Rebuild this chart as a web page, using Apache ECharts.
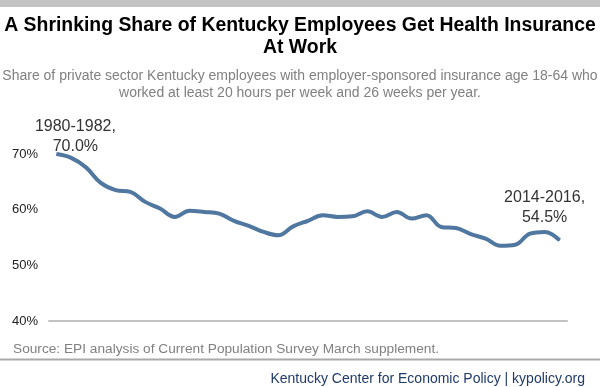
<!DOCTYPE html>
<html><head><meta charset="utf-8">
<script src="https://cdn.jsdelivr.net/npm/echarts@6/dist/echarts.min.js"></script>
<style>html,body{margin:0;padding:0;background:#fff}#c{width:600px;height:387px}</style>
</head><body><div id="c"></div>
<script>
const periods = ["1980-1982","1981-1983","1982-1984","1983-1985","1984-1986","1985-1987","1986-1988","1987-1989","1988-1990","1989-1991","1990-1992","1991-1993","1992-1994","1993-1995","1994-1996","1995-1997","1996-1998","1997-1999","1998-2000","1999-2001","2000-2002","2001-2003","2002-2004","2003-2005","2004-2006","2005-2007","2006-2008","2007-2009","2008-2010","2009-2011","2010-2012","2011-2013","2012-2014","2013-2015","2014-2016"];
const shares = [70.0, 69.3, 67.6, 64.8, 63.5, 63.2, 61.4, 60.2, 58.7, 59.8, 59.6, 59.3, 58.0, 57.1, 56.0, 55.4, 57.0, 58.0, 59.0, 58.7, 58.8, 59.7, 58.7, 59.6, 58.4, 59.0, 56.9, 56.7, 55.6, 54.8, 53.5, 53.7, 55.7, 56.0, 54.5];
const yTicks = [40, 50, 60, 70];

const FONT = 'Liberation Sans, Arial, sans-serif';
const labelFmt = p => p.name + ',\n' + Number(p.value).toFixed(1) + '%';
const lastIdx = shares.length - 1;
const seriesData = shares.map((v, i) => {
  if (i === 0) return {value: v, label: {show: true, position: 'top', distance: 0, offset: [19, 3], formatter: labelFmt}};
  if (i === lastIdx) return {value: v, label: {show: true, position: 'top', distance: 0, offset: [-15, -12], formatter: labelFmt}};
  return v;
});

const chart = echarts.init(document.getElementById('c'), null, {renderer: 'canvas'});
chart.setOption({
  backgroundColor: '#fff',
  animation: false,
  title: [
    {text: 'A Shrinking Share of Kentucky Employees Get Health Insurance\nAt Work', left: 'center', top: 10,
     textStyle: {fontFamily: FONT, fontSize: 19.4, fontWeight: 'bold', color: '#000', lineHeight: 22}},
    {text: 'Share of private sector Kentucky employees with employer-sponsored insurance age 18-64 who\nworked at least 20 hours per week and 26 weeks per year.', left: 'center', top: 63,
     textStyle: {fontFamily: FONT, fontSize: 14, fontWeight: 'normal', color: '#808080', lineHeight: 17}},
    {text: 'Source: EPI analysis of Current Population Survey March supplement.', left: 8, top: 337,
     textStyle: {fontFamily: FONT, fontSize: 13.7, fontWeight: 'normal', color: '#808080'}},
    {text: 'Kentucky Center for Economic Policy | kypolicy.org', right: 10, top: 367,
     textStyle: {fontFamily: FONT, fontSize: 14, fontWeight: 'normal', color: '#1f3a6b'}}
  ],
  graphic: [
    {type: 'rect', shape: {x: 0, y: 0, width: 600, height: 7}, style: {fill: '#c3c3c3'}, silent: true},
    {type: 'line', shape: {x1: 0, y1: 359.5, x2: 600, y2: 359.5}, style: {stroke: '#a9a9a9', lineWidth: 2}, silent: true}
  ],
  grid: {left: 49, right: 33, top: 154, bottom: 66},
  xAxis: {
    type: 'category', data: periods, boundaryGap: true,
    axisLine: {show: true, lineStyle: {color: '#c3c3c3', width: 2}},
    axisTick: {show: false}, axisLabel: {show: false}, splitLine: {show: false}
  },
  yAxis: {
    type: 'value', min: yTicks[0], max: yTicks[yTicks.length - 1], interval: 10,
    axisLine: {show: false}, axisTick: {show: false}, splitLine: {show: false},
    axisLabel: {formatter: '{value}%', margin: 11, fontFamily: FONT, fontSize: 13, color: '#222'}
  },
  series: [{
    type: 'line', data: seriesData, smooth: 0.4,
    symbol: 'circle', symbolSize: 1, showSymbol: true, showAllSymbol: true,
    lineStyle: {color: '#50779f', width: 4},
    itemStyle: {color: '#50779f'},
    label: {show: false, fontFamily: FONT, fontSize: 16, color: '#333', lineHeight: 20, align: 'center'}
  }]
});
</script>
</body></html>
